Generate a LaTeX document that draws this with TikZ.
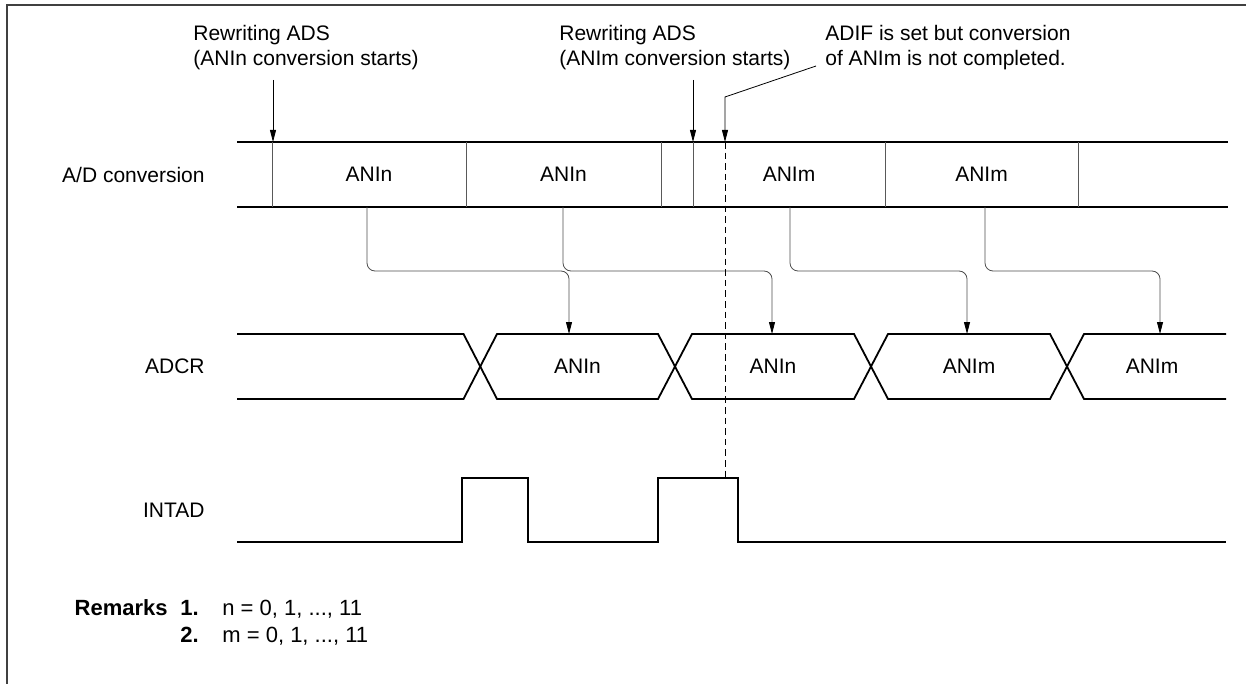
\documentclass[tikz,border=0pt]{standalone}
\usepackage{fontspec}
\setmainfont{Liberation Sans}
\usetikzlibrary{arrows.meta}

\begin{document}
\begin{tikzpicture}[
    x=0.5pt, y=-0.5pt,
    txt/.style={font=\fontsize{10.5}{12.5}\selectfont, inner sep=0pt},
    remtxt/.style={font=\fontsize{11}{13}\selectfont, inner sep=0pt, anchor=base west},
    remhead/.style={remtxt, font=\fontsize{11}{13}\selectfont\bfseries},
    bus/.style={line width=0.9pt, line join=miter},
    tick/.style={line width=0.4pt, black!65},
    link/.style={line width=0.4pt, black!70, rounded corners=4pt, -{Triangle[length=6pt, width=3pt, black]}},
    note/.style={line width=0.4pt, -{Triangle[length=6pt, width=3pt]}},
    guide/.style={line width=0.4pt, dash pattern=on 3.3pt off 2pt}
]
\useasboundingbox (0,0) rectangle (1246,684);

% frame
\draw[line width=0.6pt, black!75] (7,700) -- (7,5) -- (1260,5);

% captions on top
\node[txt, anchor=north west, align=left] (startn) at (193,25) {Rewriting ADS\\(ANIn conversion starts)};
\node[txt, anchor=north west, align=left] (startm) at (559,25) {Rewriting ADS\\(ANIm conversion starts)};
\node[txt, anchor=north west, align=left] (adif) at (825,25) {ADIF is set but conversion\\of ANIm is not completed.};

% signal names
\node[txt, anchor=east] (adname) at (205,174.5) {A/D conversion};
\node[txt, anchor=east] (crname) at (205,366.5) {ADCR};
\node[txt, anchor=east] (intname) at (205,510) {INTAD};

% A/D conversion row
\draw[bus] (237,142) -- (1228,142);
\draw[bus] (237,207) -- (1228,207);
\foreach \x in {272,466,661,693,885,1078}
    \draw[tick] (\x,142) -- (\x,207);
\node[txt] (ad1) at (369,174.5) {ANIn};
\node[txt] (ad2) at (563.5,174.5) {ANIn};
\node[txt] (ad3) at (789,174.5) {ANIm};
\node[txt] (ad4) at (981.5,174.5) {ANIm};

% ADCR row
\draw[bus] (237,334) -- (463.5,334) -- (497,399) -- (658,399) -- (692,334) -- (854,334)
    -- (888,399) -- (1050,399) -- (1084,334) -- (1226,334);
\draw[bus] (237,399) -- (463.5,399) -- (497,334) -- (658,334) -- (692,399) -- (854,399)
    -- (888,334) -- (1050,334) -- (1084,399) -- (1226,399);
\node[txt] (cr1) at (577.5,366.5) {ANIn};
\node[txt] (cr2) at (773,366.5) {ANIn};
\node[txt] (cr3) at (969,366.5) {ANIm};
\node[txt] (cr4) at (1152,366.5) {ANIm};

% INTAD
\draw[bus] (237,542) -- (462,542) -- (462,478) -- (528,478) -- (528,542) -- (658,542)
    -- (658,478) -- (738,478) -- (738,542) -- (1226,542);

% transfers from A/D conversion to ADCR
\coordinate (mid) at (0,271);
\coordinate (out1) at (367,207);
\coordinate (out2) at (563,207);
\coordinate (out3) at (790,207);
\coordinate (out4) at (985,207);
\coordinate (in1) at (569,334);
\coordinate (in2) at (772,334);
\coordinate (in3) at (967,334);
\coordinate (in4) at (1160,334);
\foreach \i in {1,...,4}
    \draw[link] (out\i) -- (out\i |- mid) -| (in\i);

% markers
\coordinate (t1) at (273,80);
\coordinate (h1) at (273,142);
\coordinate (t2) at (693,80);
\coordinate (h2) at (693,142);
\coordinate (t3) at (816,66);
\coordinate (k3) at (725,97);
\coordinate (h3) at (725,142);
\coordinate (p3) at (725,478);
\draw[note] (t1) -- (h1);
\draw[note] (t2) -- (h2);
\draw[note] (t3) -- (k3) -- (h3);
\draw[guide] (h3) -- (p3);

% remarks
\node[remhead, anchor=base east] (rem) at (168,615) {Remarks};
\node[remhead] (r1) at (180,615) {1.};
\node[remtxt] (r1t) at (222,615) {n = 0, 1, ..., 11};
\node[remhead] (r2) at (180,642) {2.};
\node[remtxt] (r2t) at (222,642) {m = 0, 1, ..., 11};

\end{tikzpicture}
\end{document}
